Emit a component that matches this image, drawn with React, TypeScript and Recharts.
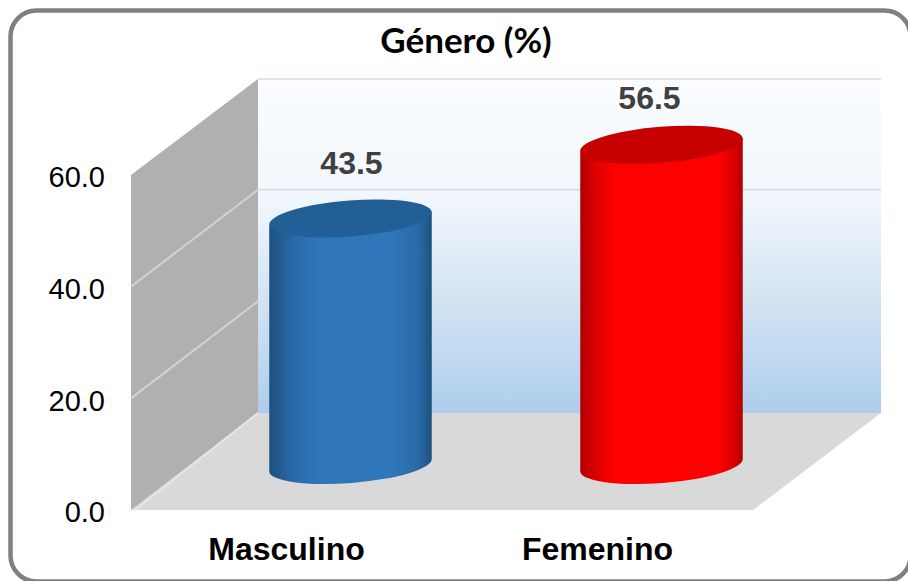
import React from "react";
import { BarChart, Bar, XAxis, YAxis, ReferenceArea, LabelList } from "recharts";

// ─── Data ─────────────────────────────────────────────────────────────────────

const categories = ["Masculino", "Femenino"];
const percentages = [43.5, 56.5];
const yTicks = [0, 20, 40, 60];

const chartData = categories.map((genero, i) => ({ genero, valor: percentages[i] }));

// ─── Fake 3D geometry ─────────────────────────────────────────────────────────

const DEPTH_X = 127;
const DEPTH_Y = 97;
const BAR_DX = 64;
const BAR_DY = -45;
const BAR_STRETCH = 1.015;
const CAP_RY = 18;
const TILT = 4.5;
const LABEL_NUDGE = [
  { dx: 146.5, dy: -104 },
  { dx: 133.5, dy: -97 },
];
const BAR_IDS = ["cylBlue", "cylRed"];
const CAP_COLORS = ["#235f97", "#c60000"];

function Walls({ x, y, width, height }: any) {
  const bottom = y + height;
  const right = x + width;
  const backX = x + DEPTH_X;
  const backRight = right + DEPTH_X + 1;
  const backBottom = bottom - DEPTH_Y;
  const backTop = y - DEPTH_Y + 1;
  const gridY = yTicks.filter((t) => t > 0 && t < 60).map((t) => bottom - (height * t) / 60);
  return (
    <g>
      <rect x={backX} y={backTop} width={backRight - backX} height={backBottom - backTop} fill="url(#backWall)" />
      <line x1={backX} x2={backRight} y1={backTop} y2={backTop} stroke="#dfe5ea" strokeWidth={2} />
      {gridY.map((g) => (
        <line key={g} x1={backX} x2={backRight} y1={g - DEPTH_Y} y2={g - DEPTH_Y} stroke="#d9e0e6" strokeWidth={2} />
      ))}
      <polygon
        points={`${x},${bottom} ${backX},${backBottom} ${backRight},${backBottom} ${right},${bottom}`}
        fill="#d9d9d9"
      />
      <polygon
        points={`${x},${y} ${backX},${backTop} ${backX},${backBottom} ${x},${bottom}`}
        fill="#b0b0b0"
      />
      {gridY.map((g) => (
        <line key={g} x1={x} x2={backX} y1={g} y2={g - DEPTH_Y} stroke="#d2d2d2" strokeWidth={2} />
      ))}
      <line x1={x + 4} x2={backX} y1={bottom} y2={backBottom} stroke="#e6e6e6" strokeWidth={2} />
    </g>
  );
}

function Cylinder({ x, y, width, height, index }: any) {
  const rx = width / 2;
  const cx = x + rx + BAR_DX;
  const baseY = y + height + BAR_DY;
  const topY = baseY - height * BAR_STRETCH;
  const rad = (TILT * Math.PI) / 180;
  const ex = rx * Math.cos(rad);
  const ey = rx * Math.sin(rad);
  const body = [
    `M${cx - ex},${topY + ey}`,
    `L${cx - ex},${baseY + ey}`,
    `A${rx},${CAP_RY} ${-TILT} 0 0 ${cx + ex},${baseY - ey}`,
    `L${cx + ex},${topY - ey}`,
    "Z",
  ].join(" ");
  return (
    <g>
      <path d={body} fill={`url(#${BAR_IDS[index]})`} />
      <ellipse
        cx={cx}
        cy={topY}
        rx={rx}
        ry={CAP_RY}
        fill={CAP_COLORS[index]}
        transform={`rotate(${-TILT} ${cx} ${topY})`}
      />
    </g>
  );
}

function ValueLabel({ x, y, value, index }: any) {
  const nudge = LABEL_NUDGE[index];
  return (
    <text
      x={x + nudge.dx}
      y={y + nudge.dy}
      textAnchor="middle"
      dominantBaseline="central"
      fontFamily="Liberation Sans"
      fontWeight="bold"
      fontSize={32}
      fill="#404040"
    >
      {Number(value).toFixed(1)}
    </text>
  );
}

export default function App() {
  return (
    <div style={{ position: "absolute", left: 0, top: 0, width: 908, height: 581, background: "#ffffff" }}>
      <BarChart
        width={908}
        height={581}
        data={chartData}
        margin={{ top: 175, right: 155, bottom: 0, left: 0 }}
      >
        <defs>
          <linearGradient id="backWall" x1="0" y1="0" x2="0" y2="1">
            <stop offset="0" stopColor="#fbfdff" />
            <stop offset="0.35" stopColor="#f1f7fc" />
            <stop offset="0.7" stopColor="#cfe1f2" />
            <stop offset="1" stopColor="#aecdec" />
          </linearGradient>
          <linearGradient id="cylBlue" x1="0" y1="0" x2="1" y2="0">
            <stop offset="0" stopColor="#1e507f" />
            <stop offset="0.15" stopColor="#2a6aa8" />
            <stop offset="0.3" stopColor="#2e75ba" />
            <stop offset="0.75" stopColor="#2f76bb" />
            <stop offset="0.92" stopColor="#2a6aa6" />
            <stop offset="1" stopColor="#1d5080" />
          </linearGradient>
          <linearGradient id="cylRed" x1="0" y1="0" x2="1" y2="0">
            <stop offset="0" stopColor="#b00000" />
            <stop offset="0.1" stopColor="#dd0000" />
            <stop offset="0.22" stopColor="#ff0000" />
            <stop offset="0.85" stopColor="#ff0000" />
            <stop offset="0.95" stopColor="#d80000" />
            <stop offset="1" stopColor="#b00000" />
          </linearGradient>
        </defs>
        <rect x={10.5} y={10.5} width={900} height={571} rx={26} ry={26} fill="#ffffff" stroke="#808080" strokeWidth={4.5} />
        <text
          x={466}
          y={39}
          textAnchor="middle"
          dominantBaseline="central"
          fontFamily="Lato"
          fontWeight="bold"
          fontSize={35}
          fill="#000000"
        >
          Género (%)
        </text>
        <XAxis
          dataKey="genero"
          axisLine={false}
          tickLine={false}
          tickSize={0}
          tickMargin={27}
          height={71}
          interval={0}
          tick={{ fontFamily: "Liberation Sans", fontWeight: "bold", fontSize: 32, fill: "#000000" }}
        />
        <YAxis
          domain={[0, 60]}
          ticks={yTicks}
          width={131}
          axisLine={false}
          tickLine={false}
          tickSize={0}
          tickMargin={26}
          tickFormatter={(v) => Number(v).toFixed(1)}
          tick={{ fontFamily: "Liberation Sans", fontSize: 29, fill: "#000000", dy: 2 }}
        />
        <ReferenceArea y1={0} y2={60} shape={<Walls />} ifOverflow="visible" />
        <Bar dataKey="valor" barSize={163} shape={<Cylinder />} isAnimationActive={false}>
          <LabelList dataKey="valor" content={<ValueLabel />} />
        </Bar>
      </BarChart>
    </div>
  );
}
